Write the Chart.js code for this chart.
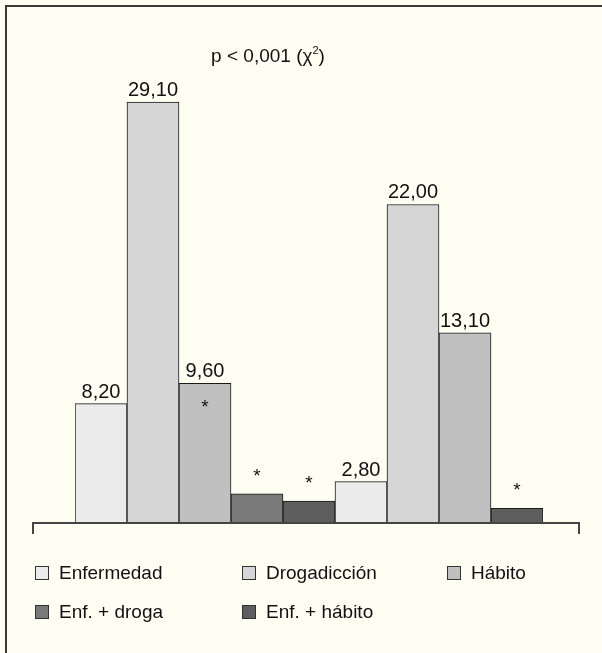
<!DOCTYPE html>
<html>
<head>
<meta charset="utf-8">
<script src="https://cdn.jsdelivr.net/npm/chart.js@4"></script>
<style>
  html, body { margin:0; padding:0; background:#fefef3; }
  body { width:602px; height:653px; position:relative; overflow:hidden; font-family:"Liberation Sans", Arial, sans-serif; color:#111; }
  #frame { position:absolute; left:5px; top:5px; right:-10px; bottom:-10px; border-left:2px solid #3a3a3a; border-top:2px solid #3a3a3a; }
  canvas { position:absolute; left:0; top:0; }
  #title { position:absolute; left:168px; width:200px; top:45px; text-align:center; font-size:19px; }
  #title sup { font-size:11px; position:relative; top:-1px; }
  .leg { position:absolute; font-size:19px; line-height:20px; white-space:nowrap; }
  .leg i { position:absolute; left:0; top:3px; width:12px; height:12px; border:1px solid #333; }
  .leg span { position:absolute; left:24px; top:0; }
</style>
</head>
<body>
<div id="frame"></div>
<canvas id="c" width="602" height="653"></canvas>
<div id="title">p &lt; 0,001 (χ<sup>2</sup>)</div>
<div id="legend"></div>
<script>
// ── Data ──────────────────────────────────────────────────
const categorias = ['Enfermedad', 'Drogadicción', 'Hábito', 'Enf. + droga', 'Enf. + hábito'];
const colores    = ['#ebebeb', '#d6d6d6', '#c0c0c0', '#7a7a7a', '#5e5e5e'];
const grupo1     = [8.20, 29.10, 9.60, 1.95, 1.45];
const grupo2     = [2.80, 22.00, 13.10, null, 0.95];
const rotulo1    = [true, true, true, false, false];
const rotulo2    = [true, true, true, false, false];
const estrella1  = ['', '', 'dentro', 'encima', 'encima'];
const estrella2  = ['', '', '', '', 'encima'];

// one slot per drawn bar (group 2 has no Enf. + droga bar)
const valores = [], fondo = [], conRotulo = [], conEstrella = [], slots = [];
[[grupo1, rotulo1, estrella1], [grupo2, rotulo2, estrella2]].forEach(([g, r, e], gi) => {
  g.forEach((v, i) => {
    if (v === null) return;
    valores.push(v); fondo.push(colores[i]); conRotulo.push(r[i]); conEstrella.push(e[i]);
    slots.push(`G${gi+1} ${categorias[i]}`);
  });
});

const fmt = v => v.toFixed(2).replace('.', ',');

// ── Legend (HTML) ─────────────────────────────────────────
const legPos = [[35,563],[242,563],[447,563],[35,602],[242,602]];
document.getElementById('legend').innerHTML = categorias.map((c, i) =>
  `<div class="leg" style="left:${legPos[i][0]}px;top:${legPos[i][1]}px"><i style="background:${colores[i]}"></i><span>${c}</span></div>`
).join('');

// ── Plugins ───────────────────────────────────────────────
const ejePlugin = {
  id: 'eje',
  afterDatasetsDraw(chart) {
    const { ctx, scales:{ y } } = chart;
    const y0 = Math.round(y.getPixelForValue(0)) + 1;
    ctx.save();
    ctx.strokeStyle = '#444'; ctx.lineWidth = 2;
    ctx.beginPath();
    ctx.moveTo(33, y0 + 11); ctx.lineTo(33, y0); ctx.lineTo(579, y0); ctx.lineTo(579, y0 + 11);
    ctx.stroke();
    ctx.restore();
  }
};

const rotulosPlugin = {
  id: 'rotulos',
  afterDatasetsDraw(chart) {
    const { ctx } = chart;
    const meta = chart.getDatasetMeta(0);
    ctx.save();
    ctx.fillStyle = '#111';
    ctx.textAlign = 'center';
    meta.data.forEach((bar, i) => {
      if (conRotulo[i]) {
        ctx.font = '20px "Liberation Sans", Arial, sans-serif';
        ctx.textBaseline = 'alphabetic';
        ctx.fillText(fmt(valores[i]), bar.x, bar.y - 6);
      }
      if (conEstrella[i]) {
        ctx.font = '19px "Liberation Sans", Arial, sans-serif';
        ctx.textBaseline = 'alphabetic';
        const yy = conEstrella[i] === 'dentro' ? bar.y + 30 : bar.y - 12;
        ctx.fillText('*', bar.x, yy);
      }
    });
    ctx.restore();
  }
};

new Chart(document.getElementById('c'), {
  type: 'bar',
  data: {
    labels: slots,
    datasets: [{
      data: valores,
      backgroundColor: fondo,
      borderColor: '#1a1a1a',
      borderWidth: 1,
      categoryPercentage: 1,
      barPercentage: 1
    }]
  },
  options: {
    responsive: false,
    animation: false,
    layout: { padding: { left: 75, right: 59, top: 89, bottom: 131 } },
    plugins: { legend: { display: false }, tooltip: { enabled: false } },
    scales: {
      x: { display: false },
      y: { display: false, min: 0, max: 30 }
    }
  },
  plugins: [ejePlugin, rotulosPlugin]
});
</script>
</body>
</html>
